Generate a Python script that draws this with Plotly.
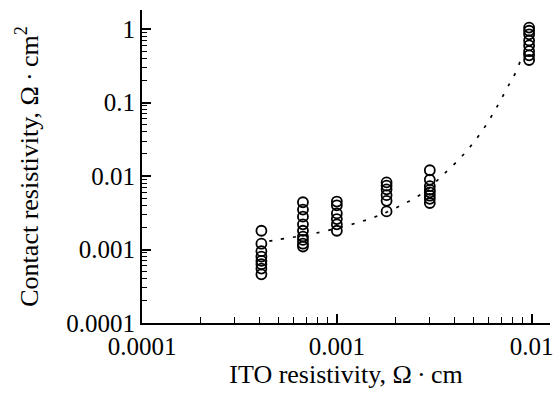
import plotly.graph_objects as go

# Measured data: ITO resistivity columns (Ohm*cm) and contact resistivity (Ohm*cm^2)
col_x = [4.1e-4, 6.7e-4, 1.0e-3, 1.8e-3, 3.0e-3, 9.7e-3]
col_y = [
    [1.8e-3, 1.2e-3, 9.5e-4, 8.0e-4, 7.0e-4, 6.3e-4, 5.5e-4, 4.6e-4],
    [4.4e-3, 3.5e-3, 2.8e-3, 2.2e-3, 1.8e-3, 1.5e-3, 1.35e-3, 1.2e-3, 1.1e-3],
    [4.5e-3, 4.0e-3, 3.1e-3, 2.6e-3, 2.2e-3, 1.8e-3],
    [8.2e-3, 7.4e-3, 6.6e-3, 5.5e-3, 4.6e-3, 3.3e-3],
    [1.2e-2, 8.9e-3, 7.3e-3, 6.5e-3, 6.0e-3, 5.4e-3, 4.9e-3, 4.3e-3],
    [1.05, 0.95, 0.85, 0.7, 0.6, 0.5, 0.44, 0.38],
]

# Fitted (dotted) curve
fit_x = [4.5e-4, 4.94e-4, 7.55e-4, 1.17e-3, 1.53e-3, 1.92e-3, 2.77e-3, 3.51e-3,
         4.55e-3, 5.62e-3, 6.64e-3, 7.74e-3, 8.31e-3, 8.9e-3, 9.3e-3]
fit_y = [1.3e-3, 1.36e-3, 1.64e-3, 2.17e-3, 2.71e-3, 3.48e-3, 5.9e-3, 1.04e-2,
         2.07e-2, 4.27e-2, 8.8e-2, 0.186, 0.262, 0.41, 0.5]

x_ticks = [1e-4, 1e-3, 1e-2]
x_tick_text = ["0.0001", "0.001", "0.01"]
y_ticks = [1e-4, 1e-3, 1e-2, 1e-1, 1]
y_tick_text = ["0.0001", "0.001", "0.01", "0.1", "1"]

x_minor = [m * d for d in [1e-4, 1e-3] for m in range(2, 10)]
y_minor = [m * d for d in [1e-4, 1e-3, 1e-2, 1e-1] for m in range(2, 10)]

pts_x = [cx for cx, ys in zip(col_x, col_y) for _ in ys]
pts_y = [v for ys in col_y for v in ys]

font = "Liberation Serif, Times New Roman, serif"
TICK = 25
TITLE = 26

fig = go.Figure()
fig.add_trace(go.Scatter(
    x=fit_x, y=fit_y, mode="lines",
    line=dict(color="black", width=1.7, dash="3px,9px", shape="spline"),
    hoverinfo="skip", showlegend=False,
))
fig.add_trace(go.Scatter(
    x=pts_x, y=pts_y, mode="markers",
    marker=dict(symbol="circle-open", size=10, color="black", line=dict(width=1.8, color="black")),
    showlegend=False,
))

fig.update_layout(
    width=560, height=394,
    margin=dict(l=142, r=10, t=10, b=71),
    paper_bgcolor="white", plot_bgcolor="white",
    font=dict(family=font, size=TICK, color="black"),
)
fig.update_xaxes(
    type="log", range=[-4, -1.906], automargin=False,
    tickmode="array", tickvals=x_ticks, ticktext=x_tick_text,
    ticks="inside", ticklen=9, tickwidth=1.5, tickcolor="black",
    minor=dict(ticks="inside", ticklen=6, tickwidth=1.3, tickcolor="black",
               tickmode="array", tickvals=x_minor, showgrid=False),
    showline=True, linecolor="black", linewidth=2,
    showgrid=False, zeroline=False,
    tickfont=dict(size=TICK, family=font),
    title=dict(text="ITO resistivity, Ω\u2009·\u2009cm", font=dict(size=TITLE, family=font), standoff=2),
)
fig.update_yaxes(
    type="log", range=[-4, 0.26], automargin=False,
    tickmode="array", tickvals=y_ticks, ticktext=y_tick_text,
    ticks="inside", ticklen=9, tickwidth=1.5, tickcolor="black",
    minor=dict(ticks="inside", ticklen=5, tickwidth=1.3, tickcolor="black",
               tickmode="array", tickvals=y_minor, showgrid=False),
    showline=True, linecolor="black", linewidth=2,
    showgrid=False, zeroline=False,
    tickfont=dict(size=TICK, family=font),
    title=dict(text="Contact resistivity, Ω\u2009·\u2009cm<sup>2</sup>", font=dict(size=TITLE, family=font), standoff=20),
)

fig.write_html("out.html")
